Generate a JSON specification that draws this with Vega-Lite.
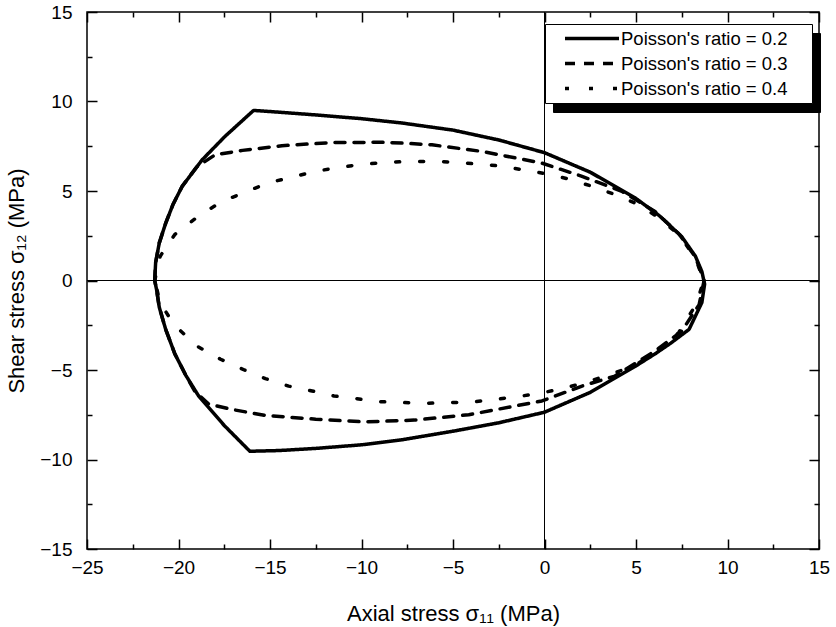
{
  "$schema": "https://vega.github.io/schema/vega-lite/v6.json",
  "width": 732,
  "height": 537,
  "autosize": {"type": "none"},
  "padding": {"left": 87, "top": 12, "right": 17, "bottom": 78},
  "background": "white",
  "config": {
    "font": "Liberation Sans",
    "view": {"stroke": "black", "strokeWidth": 1.5},
    "axis": {
      "domainColor": "black", "domainWidth": 1.5, "tickColor": "black", "tickWidth": 1.5,
      "grid": false, "labelColor": "black", "labelFontSize": 19, "labelFont": "Liberation Sans",
      "titleFont": "Liberation Sans", "titleFontSize": 22, "titleFontWeight": "normal", "titleColor": "black",
      "labelOverlap": false, "labelFlush": false
    }
  },
  "layer": [
    {
      "data": {"values": [
        {"ratio": "Poisson's ratio = 0.2", "i": 1, "x": -21.3, "y": 0},
        {"ratio": "Poisson's ratio = 0.2", "i": 2, "x": -21.25, "y": 1.0},
        {"ratio": "Poisson's ratio = 0.2", "i": 3, "x": -21.05, "y": 2.1},
        {"ratio": "Poisson's ratio = 0.2", "i": 4, "x": -20.7, "y": 3.2},
        {"ratio": "Poisson's ratio = 0.2", "i": 5, "x": -20.3, "y": 4.25},
        {"ratio": "Poisson's ratio = 0.2", "i": 6, "x": -19.8, "y": 5.26},
        {"ratio": "Poisson's ratio = 0.2", "i": 7, "x": -18.7, "y": 6.75},
        {"ratio": "Poisson's ratio = 0.2", "i": 8, "x": -17.46, "y": 8.05},
        {"ratio": "Poisson's ratio = 0.2", "i": 9, "x": -15.9, "y": 9.5},
        {"ratio": "Poisson's ratio = 0.2", "i": 10, "x": -15, "y": 9.44},
        {"ratio": "Poisson's ratio = 0.2", "i": 11, "x": -12.5, "y": 9.25},
        {"ratio": "Poisson's ratio = 0.2", "i": 12, "x": -10, "y": 9.04},
        {"ratio": "Poisson's ratio = 0.2", "i": 13, "x": -7.8, "y": 8.8},
        {"ratio": "Poisson's ratio = 0.2", "i": 14, "x": -5, "y": 8.4},
        {"ratio": "Poisson's ratio = 0.2", "i": 15, "x": -2.5, "y": 7.85},
        {"ratio": "Poisson's ratio = 0.2", "i": 16, "x": 0, "y": 7.14},
        {"ratio": "Poisson's ratio = 0.2", "i": 17, "x": 2.5, "y": 6.05},
        {"ratio": "Poisson's ratio = 0.2", "i": 18, "x": 4.95, "y": 4.62},
        {"ratio": "Poisson's ratio = 0.2", "i": 19, "x": 6.3, "y": 3.6},
        {"ratio": "Poisson's ratio = 0.2", "i": 20, "x": 7.5, "y": 2.45},
        {"ratio": "Poisson's ratio = 0.2", "i": 21, "x": 8.25, "y": 1.35},
        {"ratio": "Poisson's ratio = 0.2", "i": 22, "x": 8.6, "y": 0.5},
        {"ratio": "Poisson's ratio = 0.2", "i": 23, "x": 8.75, "y": -0.2},
        {"ratio": "Poisson's ratio = 0.2", "i": 24, "x": 8.6, "y": -1.23},
        {"ratio": "Poisson's ratio = 0.2", "i": 25, "x": 7.9, "y": -2.73},
        {"ratio": "Poisson's ratio = 0.2", "i": 26, "x": 6.9, "y": -3.5},
        {"ratio": "Poisson's ratio = 0.2", "i": 27, "x": 6.04, "y": -4.1},
        {"ratio": "Poisson's ratio = 0.2", "i": 28, "x": 4.95, "y": -4.8},
        {"ratio": "Poisson's ratio = 0.2", "i": 29, "x": 2.5, "y": -6.25},
        {"ratio": "Poisson's ratio = 0.2", "i": 30, "x": 0, "y": -7.36},
        {"ratio": "Poisson's ratio = 0.2", "i": 31, "x": -2.5, "y": -7.95},
        {"ratio": "Poisson's ratio = 0.2", "i": 32, "x": -5, "y": -8.42},
        {"ratio": "Poisson's ratio = 0.2", "i": 33, "x": -7.8, "y": -8.9},
        {"ratio": "Poisson's ratio = 0.2", "i": 34, "x": -10, "y": -9.18},
        {"ratio": "Poisson's ratio = 0.2", "i": 35, "x": -12.5, "y": -9.38},
        {"ratio": "Poisson's ratio = 0.2", "i": 36, "x": -14.5, "y": -9.5},
        {"ratio": "Poisson's ratio = 0.2", "i": 37, "x": -16.1, "y": -9.54},
        {"ratio": "Poisson's ratio = 0.2", "i": 38, "x": -17.5, "y": -8.1},
        {"ratio": "Poisson's ratio = 0.2", "i": 39, "x": -18.9, "y": -6.45},
        {"ratio": "Poisson's ratio = 0.2", "i": 40, "x": -19.6, "y": -5.3},
        {"ratio": "Poisson's ratio = 0.2", "i": 41, "x": -20.2, "y": -4.1},
        {"ratio": "Poisson's ratio = 0.2", "i": 42, "x": -20.7, "y": -2.73},
        {"ratio": "Poisson's ratio = 0.2", "i": 43, "x": -21.05, "y": -1.5},
        {"ratio": "Poisson's ratio = 0.2", "i": 44, "x": -21.2, "y": -0.5},
        {"ratio": "Poisson's ratio = 0.2", "i": 45, "x": -21.3, "y": 0},

        {"ratio": "Poisson's ratio = 0.3", "i": 1, "x": -21.3, "y": 0},
        {"ratio": "Poisson's ratio = 0.3", "i": 2, "x": -21.25, "y": 1.0},
        {"ratio": "Poisson's ratio = 0.3", "i": 3, "x": -21.05, "y": 2.1},
        {"ratio": "Poisson's ratio = 0.3", "i": 4, "x": -20.7, "y": 3.2},
        {"ratio": "Poisson's ratio = 0.3", "i": 5, "x": -20.3, "y": 4.25},
        {"ratio": "Poisson's ratio = 0.3", "i": 6, "x": -19.8, "y": 5.26},
        {"ratio": "Poisson's ratio = 0.3", "i": 7, "x": -19.0, "y": 6.35},
        {"ratio": "Poisson's ratio = 0.3", "i": 8, "x": -18.0, "y": 7.02},
        {"ratio": "Poisson's ratio = 0.3", "i": 9, "x": -16.5, "y": 7.27},
        {"ratio": "Poisson's ratio = 0.3", "i": 10, "x": -14.35, "y": 7.53},
        {"ratio": "Poisson's ratio = 0.3", "i": 11, "x": -11.6, "y": 7.71},
        {"ratio": "Poisson's ratio = 0.3", "i": 12, "x": -8.88, "y": 7.72},
        {"ratio": "Poisson's ratio = 0.3", "i": 13, "x": -7.8, "y": 7.68},
        {"ratio": "Poisson's ratio = 0.3", "i": 14, "x": -6.15, "y": 7.58},
        {"ratio": "Poisson's ratio = 0.3", "i": 15, "x": -3.42, "y": 7.21},
        {"ratio": "Poisson's ratio = 0.3", "i": 16, "x": -0.14, "y": 6.56},
        {"ratio": "Poisson's ratio = 0.3", "i": 17, "x": 2.05, "y": 5.82},
        {"ratio": "Poisson's ratio = 0.3", "i": 18, "x": 4.23, "y": 4.98},
        {"ratio": "Poisson's ratio = 0.3", "i": 19, "x": 6.04, "y": 3.85},
        {"ratio": "Poisson's ratio = 0.3", "i": 20, "x": 7.35, "y": 2.6},
        {"ratio": "Poisson's ratio = 0.3", "i": 21, "x": 8.25, "y": 1.3},
        {"ratio": "Poisson's ratio = 0.3", "i": 22, "x": 8.72, "y": 0},
        {"ratio": "Poisson's ratio = 0.3", "i": 23, "x": 8.45, "y": -1.35},
        {"ratio": "Poisson's ratio = 0.3", "i": 24, "x": 7.5, "y": -2.83},
        {"ratio": "Poisson's ratio = 0.3", "i": 25, "x": 6.04, "y": -3.94},
        {"ratio": "Poisson's ratio = 0.3", "i": 26, "x": 3.85, "y": -5.34},
        {"ratio": "Poisson's ratio = 0.3", "i": 27, "x": 2.05, "y": -5.9},
        {"ratio": "Poisson's ratio = 0.3", "i": 28, "x": -0.14, "y": -6.73},
        {"ratio": "Poisson's ratio = 0.3", "i": 29, "x": -4.14, "y": -7.5},
        {"ratio": "Poisson's ratio = 0.3", "i": 30, "x": -7.1, "y": -7.8},
        {"ratio": "Poisson's ratio = 0.3", "i": 31, "x": -9.8, "y": -7.9},
        {"ratio": "Poisson's ratio = 0.3", "i": 32, "x": -12.5, "y": -7.75},
        {"ratio": "Poisson's ratio = 0.3", "i": 33, "x": -15.3, "y": -7.53},
        {"ratio": "Poisson's ratio = 0.3", "i": 34, "x": -17.1, "y": -7.2},
        {"ratio": "Poisson's ratio = 0.3", "i": 35, "x": -18.35, "y": -6.9},
        {"ratio": "Poisson's ratio = 0.3", "i": 36, "x": -19.1, "y": -6.2},
        {"ratio": "Poisson's ratio = 0.3", "i": 37, "x": -19.6, "y": -5.3},
        {"ratio": "Poisson's ratio = 0.3", "i": 38, "x": -20.2, "y": -4.1},
        {"ratio": "Poisson's ratio = 0.3", "i": 39, "x": -20.7, "y": -2.73},
        {"ratio": "Poisson's ratio = 0.3", "i": 40, "x": -21.05, "y": -1.5},
        {"ratio": "Poisson's ratio = 0.3", "i": 41, "x": -21.2, "y": -0.5},
        {"ratio": "Poisson's ratio = 0.3", "i": 42, "x": -21.3, "y": 0},

        {"ratio": "Poisson's ratio = 0.4", "i": 1, "x": -21.3, "y": 0},
        {"ratio": "Poisson's ratio = 0.4", "i": 2, "x": -21.0, "y": 1.36},
        {"ratio": "Poisson's ratio = 0.4", "i": 3, "x": -20.2, "y": 2.57},
        {"ratio": "Poisson's ratio = 0.4", "i": 4, "x": -18.8, "y": 3.68},
        {"ratio": "Poisson's ratio = 0.4", "i": 5, "x": -17.6, "y": 4.42},
        {"ratio": "Poisson's ratio = 0.4", "i": 6, "x": -16.26, "y": 4.98},
        {"ratio": "Poisson's ratio = 0.4", "i": 7, "x": -15.1, "y": 5.45},
        {"ratio": "Poisson's ratio = 0.4", "i": 8, "x": -13.8, "y": 5.78},
        {"ratio": "Poisson's ratio = 0.4", "i": 9, "x": -12.5, "y": 6.1},
        {"ratio": "Poisson's ratio = 0.4", "i": 10, "x": -11.25, "y": 6.32},
        {"ratio": "Poisson's ratio = 0.4", "i": 11, "x": -9.97, "y": 6.49},
        {"ratio": "Poisson's ratio = 0.4", "i": 12, "x": -8.7, "y": 6.6},
        {"ratio": "Poisson's ratio = 0.4", "i": 13, "x": -7.4, "y": 6.65},
        {"ratio": "Poisson's ratio = 0.4", "i": 14, "x": -6.3, "y": 6.65},
        {"ratio": "Poisson's ratio = 0.4", "i": 15, "x": -5.05, "y": 6.62},
        {"ratio": "Poisson's ratio = 0.4", "i": 16, "x": -2.5, "y": 6.41},
        {"ratio": "Poisson's ratio = 0.4", "i": 17, "x": 0.03, "y": 5.97},
        {"ratio": "Poisson's ratio = 0.4", "i": 18, "x": 1.32, "y": 5.67},
        {"ratio": "Poisson's ratio = 0.4", "i": 19, "x": 2.6, "y": 5.26},
        {"ratio": "Poisson's ratio = 0.4", "i": 20, "x": 3.85, "y": 4.8},
        {"ratio": "Poisson's ratio = 0.4", "i": 21, "x": 5.15, "y": 4.24},
        {"ratio": "Poisson's ratio = 0.4", "i": 22, "x": 6.24, "y": 3.51},
        {"ratio": "Poisson's ratio = 0.4", "i": 23, "x": 7.4, "y": 2.5},
        {"ratio": "Poisson's ratio = 0.4", "i": 24, "x": 8.25, "y": 1.25},
        {"ratio": "Poisson's ratio = 0.4", "i": 25, "x": 8.7, "y": 0},
        {"ratio": "Poisson's ratio = 0.4", "i": 26, "x": 8.3, "y": -1.3},
        {"ratio": "Poisson's ratio = 0.4", "i": 27, "x": 7.33, "y": -2.92},
        {"ratio": "Poisson's ratio = 0.4", "i": 28, "x": 6.05, "y": -4.03},
        {"ratio": "Poisson's ratio = 0.4", "i": 29, "x": 4.87, "y": -4.78},
        {"ratio": "Poisson's ratio = 0.4", "i": 30, "x": 3.6, "y": -5.24},
        {"ratio": "Poisson's ratio = 0.4", "i": 31, "x": 2.32, "y": -5.67},
        {"ratio": "Poisson's ratio = 0.4", "i": 32, "x": 1.05, "y": -6.02},
        {"ratio": "Poisson's ratio = 0.4", "i": 33, "x": -0.23, "y": -6.3},
        {"ratio": "Poisson's ratio = 0.4", "i": 34, "x": -1.5, "y": -6.49},
        {"ratio": "Poisson's ratio = 0.4", "i": 35, "x": -2.69, "y": -6.64},
        {"ratio": "Poisson's ratio = 0.4", "i": 36, "x": -3.96, "y": -6.79},
        {"ratio": "Poisson's ratio = 0.4", "i": 37, "x": -5.24, "y": -6.82},
        {"ratio": "Poisson's ratio = 0.4", "i": 38, "x": -6.4, "y": -6.86},
        {"ratio": "Poisson's ratio = 0.4", "i": 39, "x": -7.7, "y": -6.82},
        {"ratio": "Poisson's ratio = 0.4", "i": 40, "x": -8.97, "y": -6.77},
        {"ratio": "Poisson's ratio = 0.4", "i": 41, "x": -10.25, "y": -6.6},
        {"ratio": "Poisson's ratio = 0.4", "i": 42, "x": -11.5, "y": -6.45},
        {"ratio": "Poisson's ratio = 0.4", "i": 43, "x": -12.7, "y": -6.17},
        {"ratio": "Poisson's ratio = 0.4", "i": 44, "x": -13.98, "y": -5.9},
        {"ratio": "Poisson's ratio = 0.4", "i": 45, "x": -15.25, "y": -5.48},
        {"ratio": "Poisson's ratio = 0.4", "i": 46, "x": -16.4, "y": -5.0},
        {"ratio": "Poisson's ratio = 0.4", "i": 47, "x": -17.7, "y": -4.4},
        {"ratio": "Poisson's ratio = 0.4", "i": 48, "x": -19.0, "y": -3.66},
        {"ratio": "Poisson's ratio = 0.4", "i": 49, "x": -20.26, "y": -2.45},
        {"ratio": "Poisson's ratio = 0.4", "i": 50, "x": -21.0, "y": -1.25},
        {"ratio": "Poisson's ratio = 0.4", "i": 51, "x": -21.3, "y": 0}
      ]},
      "mark": {"type": "line", "color": "black", "strokeWidth": 3.5, "strokeCap": "round", "strokeJoin": "round"},
      "encoding": {
        "x": {
          "field": "x", "type": "quantitative",
          "scale": {"domain": [-25, 15], "nice": false, "zero": false},
          "axis": {
            "orient": "bottom", "ticks": false, "domain": false,
            "values": [-25, -20, -15, -10, -5, 0, 5, 10, 15],
            "labelPadding": 9,
            "title": "Axial stress σ₁₁ (MPa)",
            "titleBaseline": "alphabetic",
            "titleY": 71
          }
        },
        "y": {
          "field": "y", "type": "quantitative",
          "scale": {"domain": [-15, 15], "nice": false, "zero": false},
          "axis": {
            "orient": "left", "ticks": false, "domain": false,
            "values": [-15, -10, -5, 0, 5, 10, 15],
            "labelPadding": 15,
            "title": "Shear stress σ₁₂ (MPa)",
            "titleBaseline": "alphabetic",
            "titleX": -64
          }
        },
        "order": {"field": "i", "type": "quantitative"},
        "strokeDash": {
          "field": "ratio", "type": "nominal",
          "scale": {"range": [[1, 0], [10, 9], [4, 20]]},
          "legend": {
            "title": null, "orient": "none", "legendX": 458, "legendY": 12, "zindex": 2,
            "symbolType": "stroke", "symbolSize": 2916, "symbolStrokeWidth": 3.5, "symbolStrokeColor": "black",
            "labelFont": "Liberation Sans", "labelFontSize": 18.5, "labelColor": "black", "labelLimit": 400,
            "labelExpr": "datum.label + '\u2002\u2002\u2009\u200b'",
            "clipHeight": 25, "rowPadding": 0, "padding": 2, "symbolOffset": 16, "labelOffset": 0,
            "fillColor": "white", "strokeColor": "black"
          }
        },
        "opacity": {
          "field": "ratio", "type": "ordinal",
          "scale": {"domain": ["Poisson's ratio = 0.2", "Poisson's ratio = 0.3", "Poisson's ratio = 0.4"], "range": [1, 1, 1]},
          "legend": {
            "title": null, "orient": "none", "legendX": 466, "legendY": 21, "zindex": 1,
            "symbolType": "stroke", "symbolSize": 2916, "symbolStrokeWidth": 3.5, "symbolStrokeColor": "black",
            "labelFont": "Liberation Sans", "labelFontSize": 18.5, "labelColor": "black", "labelLimit": 400,
            "labelExpr": "datum.label + '\u2002\u2002\u2009\u200b'",
            "clipHeight": 25, "rowPadding": 0, "padding": 2, "symbolOffset": 16, "labelOffset": 0,
            "fillColor": "black", "strokeColor": "black"
          }
        }
      }
    },
    {
      "data": {"values": [{"v": 0}]},
      "mark": {"type": "rule", "color": "black", "strokeWidth": 1},
      "encoding": {
        "x": {"field": "v", "type": "quantitative",
          "axis": {"orient": "top", "offset": -537, "labels": false, "domain": false, "title": null, "tickSize": 10,
                   "values": [-25, -20, -15, -10, -5, 0, 5, 10, 15]}}
      }
    },
    {
      "data": {"values": [{"v": 0}]},
      "mark": {"type": "rule", "color": "black", "strokeWidth": 1},
      "encoding": {
        "y": {"field": "v", "type": "quantitative",
          "axis": {"orient": "right", "offset": -732, "labels": false, "domain": false, "title": null, "tickSize": 10,
                   "values": [-15, -10, -5, 0, 5, 10, 15]}}
      }
    },
    {
      "data": {"values": [{"v": 0}]},
      "mark": {"type": "point", "opacity": 0},
      "encoding": {
        "x": {"field": "v", "type": "quantitative",
          "axis": {"orient": "top", "offset": -537, "labels": false, "domain": false, "title": null, "tickSize": 5,
                   "values": [-22.5, -17.5, -12.5, -7.5, -2.5, 2.5, 7.5, 12.5]}},
        "y": {"field": "v", "type": "quantitative",
          "axis": {"orient": "right", "offset": -732, "labels": false, "domain": false, "title": null, "tickSize": 5,
                   "values": [-12.5, -7.5, -2.5, 2.5, 7.5, 12.5]}}
      }
    },
    {
      "data": {"values": [{"v": 0}]},
      "mark": {"type": "point", "opacity": 0},
      "encoding": {
        "x": {"field": "v", "type": "quantitative",
          "axis": {"orient": "bottom", "offset": -537, "labels": false, "domain": false, "title": null, "tickSize": 10,
                   "values": [-25, -20, -15, -10, -5, 0, 5, 10, 15]}},
        "y": {"field": "v", "type": "quantitative",
          "axis": {"orient": "left", "offset": -732, "labels": false, "domain": false, "title": null, "tickSize": 10,
                   "values": [-15, -10, -5, 0, 5, 10, 15]}}
      }
    },
    {
      "data": {"values": [{"v": 0}]},
      "mark": {"type": "point", "opacity": 0},
      "encoding": {
        "x": {"field": "v", "type": "quantitative",
          "axis": {"orient": "bottom", "offset": -537, "labels": false, "domain": false, "title": null, "tickSize": 5,
                   "values": [-22.5, -17.5, -12.5, -7.5, -2.5, 2.5, 7.5, 12.5]}},
        "y": {"field": "v", "type": "quantitative",
          "axis": {"orient": "left", "offset": -732, "labels": false, "domain": false, "title": null, "tickSize": 5,
                   "values": [-12.5, -7.5, -2.5, 2.5, 7.5, 12.5]}}
      }
    }
  ],
  "resolve": {"axis": {"x": "independent", "y": "independent"}}
}
